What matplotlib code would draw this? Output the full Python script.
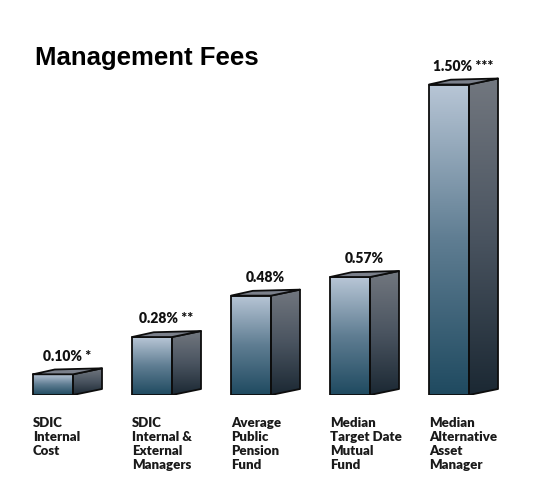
import numpy as np
import matplotlib
matplotlib.use("Agg")
import matplotlib.pyplot as plt
from matplotlib.colors import LinearSegmentedColormap
from matplotlib.patches import Polygon

categories = ["SDIC\nInternal\nCost",
              "SDIC\nInternal &\nExternal\nManagers",
              "Average\nPublic\nPension\nFund",
              "Median\nTarget Date\nMutual\nFund",
              "Median\nAlternative\nAsset\nManager"]
values = [0.10, 0.28, 0.48, 0.57, 1.50]
value_labels = ["0.10% *", "0.28% **", "0.48%", "0.57%", "1.50% ***"]
title = "Management Fees"

W, H = 541, 500
fig = plt.figure(figsize=(W / 100, H / 100), dpi=100)
fig.patch.set_facecolor("white")

base_px = 105
px_per_val = 207.0
px_per_x = 99.0
x0_px = 53.0
ax_h_px = 393
ax = fig.add_axes([0, base_px / H, 1, ax_h_px / H])
ax.set_xlim(-x0_px / px_per_x, (W - x0_px) / px_per_x)
ax.set_ylim(0, ax_h_px / px_per_val)
ax.axis("off")

front_w = 40 / px_per_x
ddx = 29 / px_per_x
ddy = 6 / px_per_val

front_cmap = LinearSegmentedColormap.from_list("front", ["#1f4a60", "#5f7d92", "#b8c6d6"])
side_cmap = LinearSegmentedColormap.from_list("side", ["#1b2833", "#4a5460", "#72777f"])
top_color = "#7b808b"
edge = "#0d0d0d"
lw = 1.3

grad = np.linspace(0, 1, 256).reshape(-1, 1)

for i, v in enumerate(values):
    xl = i - front_w / 2
    xr = i + front_w / 2
    front = Polygon([(xl, 0), (xr, 0), (xr, v), (xl, v)], closed=True,
                    facecolor="none", edgecolor=edge, lw=lw, zorder=4, joinstyle="round")
    ax.add_patch(front)
    im = ax.imshow(grad, cmap=front_cmap, origin="lower", aspect="auto",
                   extent=[xl, xr, 0, v], zorder=2, interpolation="bilinear")
    im.set_clip_path(front)
    side_pts = [(xr, 0), (xr + ddx, ddy), (xr + ddx, v + ddy), (xr, v)]
    side = Polygon(side_pts, closed=True, facecolor="none", edgecolor=edge,
                   lw=lw, zorder=4, joinstyle="round")
    ax.add_patch(side)
    im2 = ax.imshow(grad, cmap=side_cmap, origin="lower", aspect="auto",
                    extent=[xr, xr + ddx, 0, v + ddy], zorder=2, interpolation="bilinear")
    im2.set_clip_path(side)
    top = Polygon([(xl, v), (xr, v), (xr + ddx, v + ddy), (xl + ddx * 0.75, v + ddy * 0.8)],
                  closed=True, facecolor=top_color, edgecolor=edge, lw=lw, zorder=4,
                  joinstyle="round")
    ax.add_patch(top)
    ax.annotate(value_labels[i], xy=(i + ddx / 2, v), xytext=(0, 13),
                textcoords="offset points", ha="center", va="center",
                fontsize=10, fontweight="heavy", family="Lato", color="#111111",
                zorder=5, annotation_clip=False)
    ax.annotate(categories[i], xy=(xl, 0), xytext=(0, -15.5),
                textcoords="offset points", ha="left", va="top",
                fontsize=9.5, fontweight="heavy", family="Lato", color="#1a1a1a",
                linespacing=1.22, annotation_clip=False)

fig.text(35 / W, 1 - 65 / H, title, fontsize=18.5, fontweight="bold",
         family="Liberation Sans", ha="left", va="baseline", color="black")

fig.savefig("out.png", dpi=100, facecolor="white")
